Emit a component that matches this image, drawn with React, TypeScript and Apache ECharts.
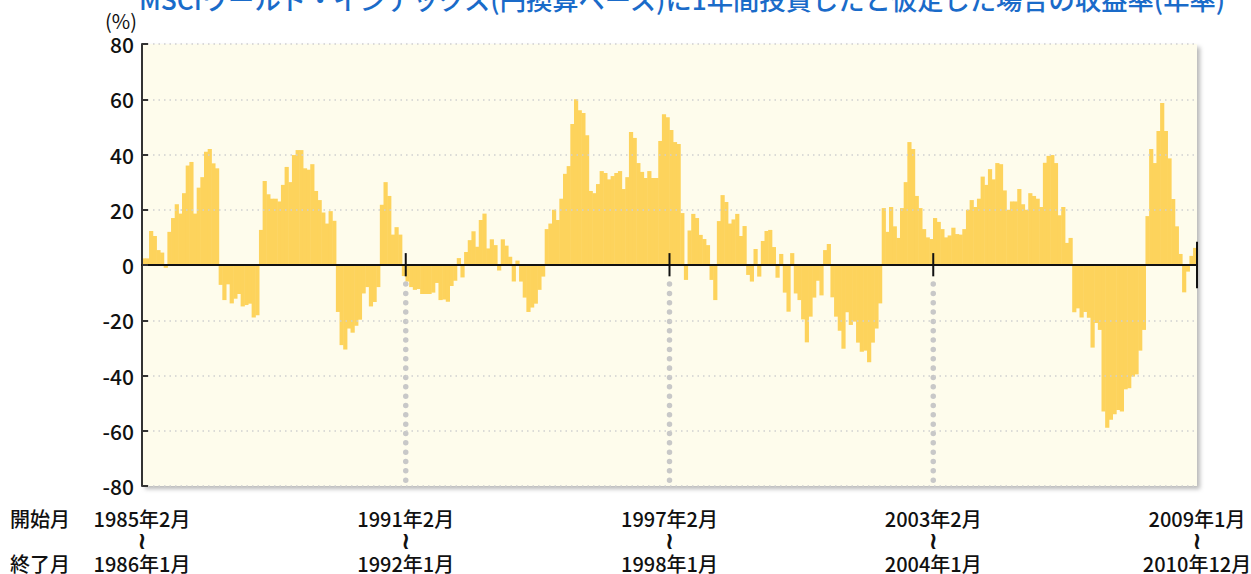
import React, { useEffect, useRef } from "react";
import * as echarts from "echarts";

// Rolling 1-year returns (%), one value per start month, 1985/2 .. 2009/1
const returns1985to1990 = [
  2.4, 2.4, 12.3, 10.5, 5.4, 4.5, -1, 12, 17, 22, 18.6, 26, 36, 37.3, 18.6, 28, 31.8, 41, 42, 36.8, 35,
  -7.2, -12.7, -7, -13.9, -12.2, -10.5, -15, -14.5, -14, -19, -18.2,
  12.7, 30.4, 25.6, 24, 24, 23, 29, 35.5, 30, 39.8, 41.6, 41.6, 35, 34.5, 36.5, 26.8, 23.5, 19, 15, 19.5, 16,
  -17, -29, -30.6, -23, -24.5, -22, -19.8, -10.3, -8, -15, -13.4, -8,
  21.8, 30, 25, 11, 13.7, 11,
  -4,
];
const returns1991to1996 = [
  -6, -8, -9, -8.7, -10.5, -10.5, -10.5, -10, -6.5, -12.7, -12.5, -13.3, -7.6, -5.7,
  2.5, -4.5, 4.7, 9, 12.2, 6.6, 16.3, 18.6, 6, 9.3, 7.2, -2, 9.3, 7, 3, -6, 1.6, -6, -11.8, -17, -15.4, -14,
  -9, -4.2, 13, 15, 20, 16.3, 24, 33, 35.8, 51, 60, 56, 55, 47, 26.8, 26, 29.3, 34, 33.3, 31, 32.2, 33.3, 34,
  27.5, 31.8, 48.1, 46, 36.9, 33.7, 31.5, 34, 31.5, 31.5, 44.9, 54.6, 53.5,
];
const returns1997to2002 = [
  48.9, 44.5, 43.8, 18.8, -5.4, 12.5, 18.5, 17, 10.9, 9.4, 7.2, -5.4, -12.7, 15.9, 25.3, 22.8, 15, 16.5,
  18.5, 10.5, 14.1, -3.6, -6, 5.8, -4.2, 8.7, 12.3, 12.7, 6.5, -4.6, 4, -10, -16.9,
  4.3, -10.3, -12.7, -19.7, -28, -18.7, -11.8, -5.7, -11, 5.4, 7.6, -11.7, -18.7, -23.8, -30.3, -17.1,
  -21.7, -20.5, -28.1, -31.4, -31, -35.2, -28.1, -23, -13.9, 20.6, 12, 21, 14, 9.8, 20.6, 30, 44.5, 42, 25, 20.6,
  13, 10, 9.4,
];
const returns2003to2009 = [
  17, 15.6, 13, 10, 10.7, 13.5, 11.2, 11, 13, 20, 23.5, 21, 24, 32, 29, 34.7, 31, 36.9, 36.5, 27, 20, 23, 23,
  27.5, 22, 20, 26, 25, 24, 21, 37, 39.5, 39.8, 36.9,
  18, 21, 8, 9.8, -17.1, -15.7, -19, -17, -19.1, -29.9, -21, -23.5, -53, -58.9, -56, -54, -52.5, -53, -45,
  -44.6, -40.4, -39.6, -31, -23.5, 17.7, 42, 36.9, 48.5, 58.6, 48.5, 38.6, 23.9, 14, 4, -9.9, -2.4, 3.3, 6.2,
];

const startMonthLabels = ["1985年2月", "1991年2月", "1997年2月", "2003年2月", "2009年1月"];
const endMonthLabels = ["1986年1月", "1992年1月", "1998年1月", "2004年1月", "2010年12月"];
const boundaryMonths = [72, 144, 216];
const titleText = "MSCIワールド・インデックス(円換算ベース)に1年間投資したと仮定した場合の収益率(年率)";

const FONT = '"Noto Sans CJK JP", "Noto Sans", sans-serif';
const BAR_COLOR = "#FDD35C";

export default function App() {
  const ref = useRef<HTMLDivElement>(null);

  useEffect(() => {
    if (!ref.current) return;
    const chart = echarts.init(ref.current, undefined, { renderer: "svg" });
    const values = [...returns1985to1990, ...returns1991to1996, ...returns1997to2002, ...returns2003to2009];
    const months: string[] = [];
    for (let i = 0; i < values.length; i++) {
      const m = 1 + i; // months after 1985/1
      const y = 1985 + Math.floor(m / 12);
      const mm = (m % 12) + 1;
      months.push(`${y}/${mm}`);
    }
    const total = values.length;

    const dotSeries = boundaryMonths.map((b) => ({
      type: "line",
      xAxisIndex: 1,
      yAxisIndex: 0,
      data: [
        [b, -6.9],
        [b, -80],
      ],
      symbol: "none",
      silent: true,
      clip: false,
      z: 4,
      lineStyle: { color: "#c8c8c8", width: 5.5, type: [0.01, 9.33], cap: "round" },
    }));
    const tickSeries = boundaryMonths.map((b) => ({
      type: "line",
      xAxisIndex: 1,
      yAxisIndex: 0,
      data: [
        [b, 4.3],
        [b, -4.1],
      ],
      symbol: "none",
      silent: true,
      clip: false,
      z: 6,
      lineStyle: { color: "#111", width: 2 },
    }));
    const endTick = {
      type: "line",
      xAxisIndex: 1,
      yAxisIndex: 0,
      data: [
        [total, 8.4],
        [total, -8.4],
      ],
      symbol: "none",
      silent: true,
      clip: false,
      z: 6,
      lineStyle: { color: "#111", width: 2 },
    };

    chart.setOption({
      animation: false,
      textStyle: { fontFamily: FONT },
      grid: {
        left: 142,
        right: 54,
        top: 44,
        bottom: 88,
        show: true,
        backgroundColor: "#FEFCEC",
        borderWidth: 0,
        shadowColor: "rgba(0,0,0,0.28)",
        shadowBlur: 4,
        shadowOffsetX: 3,
        shadowOffsetY: 3,
        outerBoundsMode: "none",
      },
      xAxis: [
        {
          type: "category",
          data: months,
          boundaryGap: true,
          z: 5,
          axisLine: { show: true, onZero: true, lineStyle: { color: "#111", width: 2 } },
          axisTick: { show: false },
          axisLabel: { show: false },
          splitLine: { show: false },
        },
        {
          type: "value",
          min: 0,
          max: total,
          interval: 72,
          position: "bottom",
          axisLine: { show: false, onZero: false },
          axisTick: { show: false },
          splitLine: { show: false },
          axisLabel: {
            show: true,
            margin: 21,
            fontSize: 20,
            fontWeight: 500,
            lineHeight: 22.5,
            color: "#111",
            fontFamily: FONT,
            showMinLabel: true,
            showMaxLabel: true,
            align: "center",
            formatter: (v: number) => {
              const i = Math.round(v / 72);
              return `${startMonthLabels[i]}\n{w|≀}\n${endMonthLabels[i]}`;
            },
            rich: {
              w: { fontSize: 24, fontWeight: "bold", lineHeight: 22.5, color: "#111", fontFamily: "DejaVu Sans" },
            },
          },
        },
      ],
      yAxis: {
        type: "value",
        min: -80,
        max: 80,
        interval: 20,
        z: 5,
        axisLine: { show: true, lineStyle: { color: "#333", width: 2 } },
        axisTick: { show: true, inside: true, length: 6, lineStyle: { color: "#333", width: 2 } },
        axisLabel: { fontSize: 21, fontWeight: 500, color: "#111", margin: 8, fontFamily: FONT },
        splitLine: { show: true, lineStyle: { color: "#cfcfcf", width: 1.5, type: [1.5, 4] } },
      },
      graphic: [
        {
          type: "text",
          x: 682,
          y: -2,
          style: {
            text: titleText,
            fill: "#1a6bc9",
            fontSize: 26.3,
            fontWeight: 500,
            fontFamily: FONT,
            align: "center",
            verticalAlign: "middle",
          },
        },
        {
          type: "text",
          x: 137,
          y: 20,
          style: { text: "(%)", fill: "#111", fontSize: 20, fontFamily: FONT, align: "right", verticalAlign: "middle" },
        },
        {
          type: "text",
          x: 40,
          y: 518,
          style: { text: "開始月", fill: "#111", fontSize: 20, fontWeight: 500, fontFamily: FONT, align: "center", verticalAlign: "middle" },
        },
        {
          type: "text",
          x: 40,
          y: 563,
          style: { text: "終了月", fill: "#111", fontSize: 20, fontWeight: 500, fontFamily: FONT, align: "center", verticalAlign: "middle" },
        },
      ],
      series: [
        {
          type: "bar",
          xAxisIndex: 0,
          yAxisIndex: 0,
          data: values,
          barWidth: 4.2,
          barGap: "-100%",
          itemStyle: { color: BAR_COLOR, borderWidth: 0 },
          silent: true,
          z: 2,
        },
        ...dotSeries,
        ...tickSeries,
        endTick,
      ],
    });
    return () => chart.dispose();
  }, []);

  return <div ref={ref} style={{ position: "absolute", left: 0, top: 0, width: 1251, height: 574 }} />;
}
